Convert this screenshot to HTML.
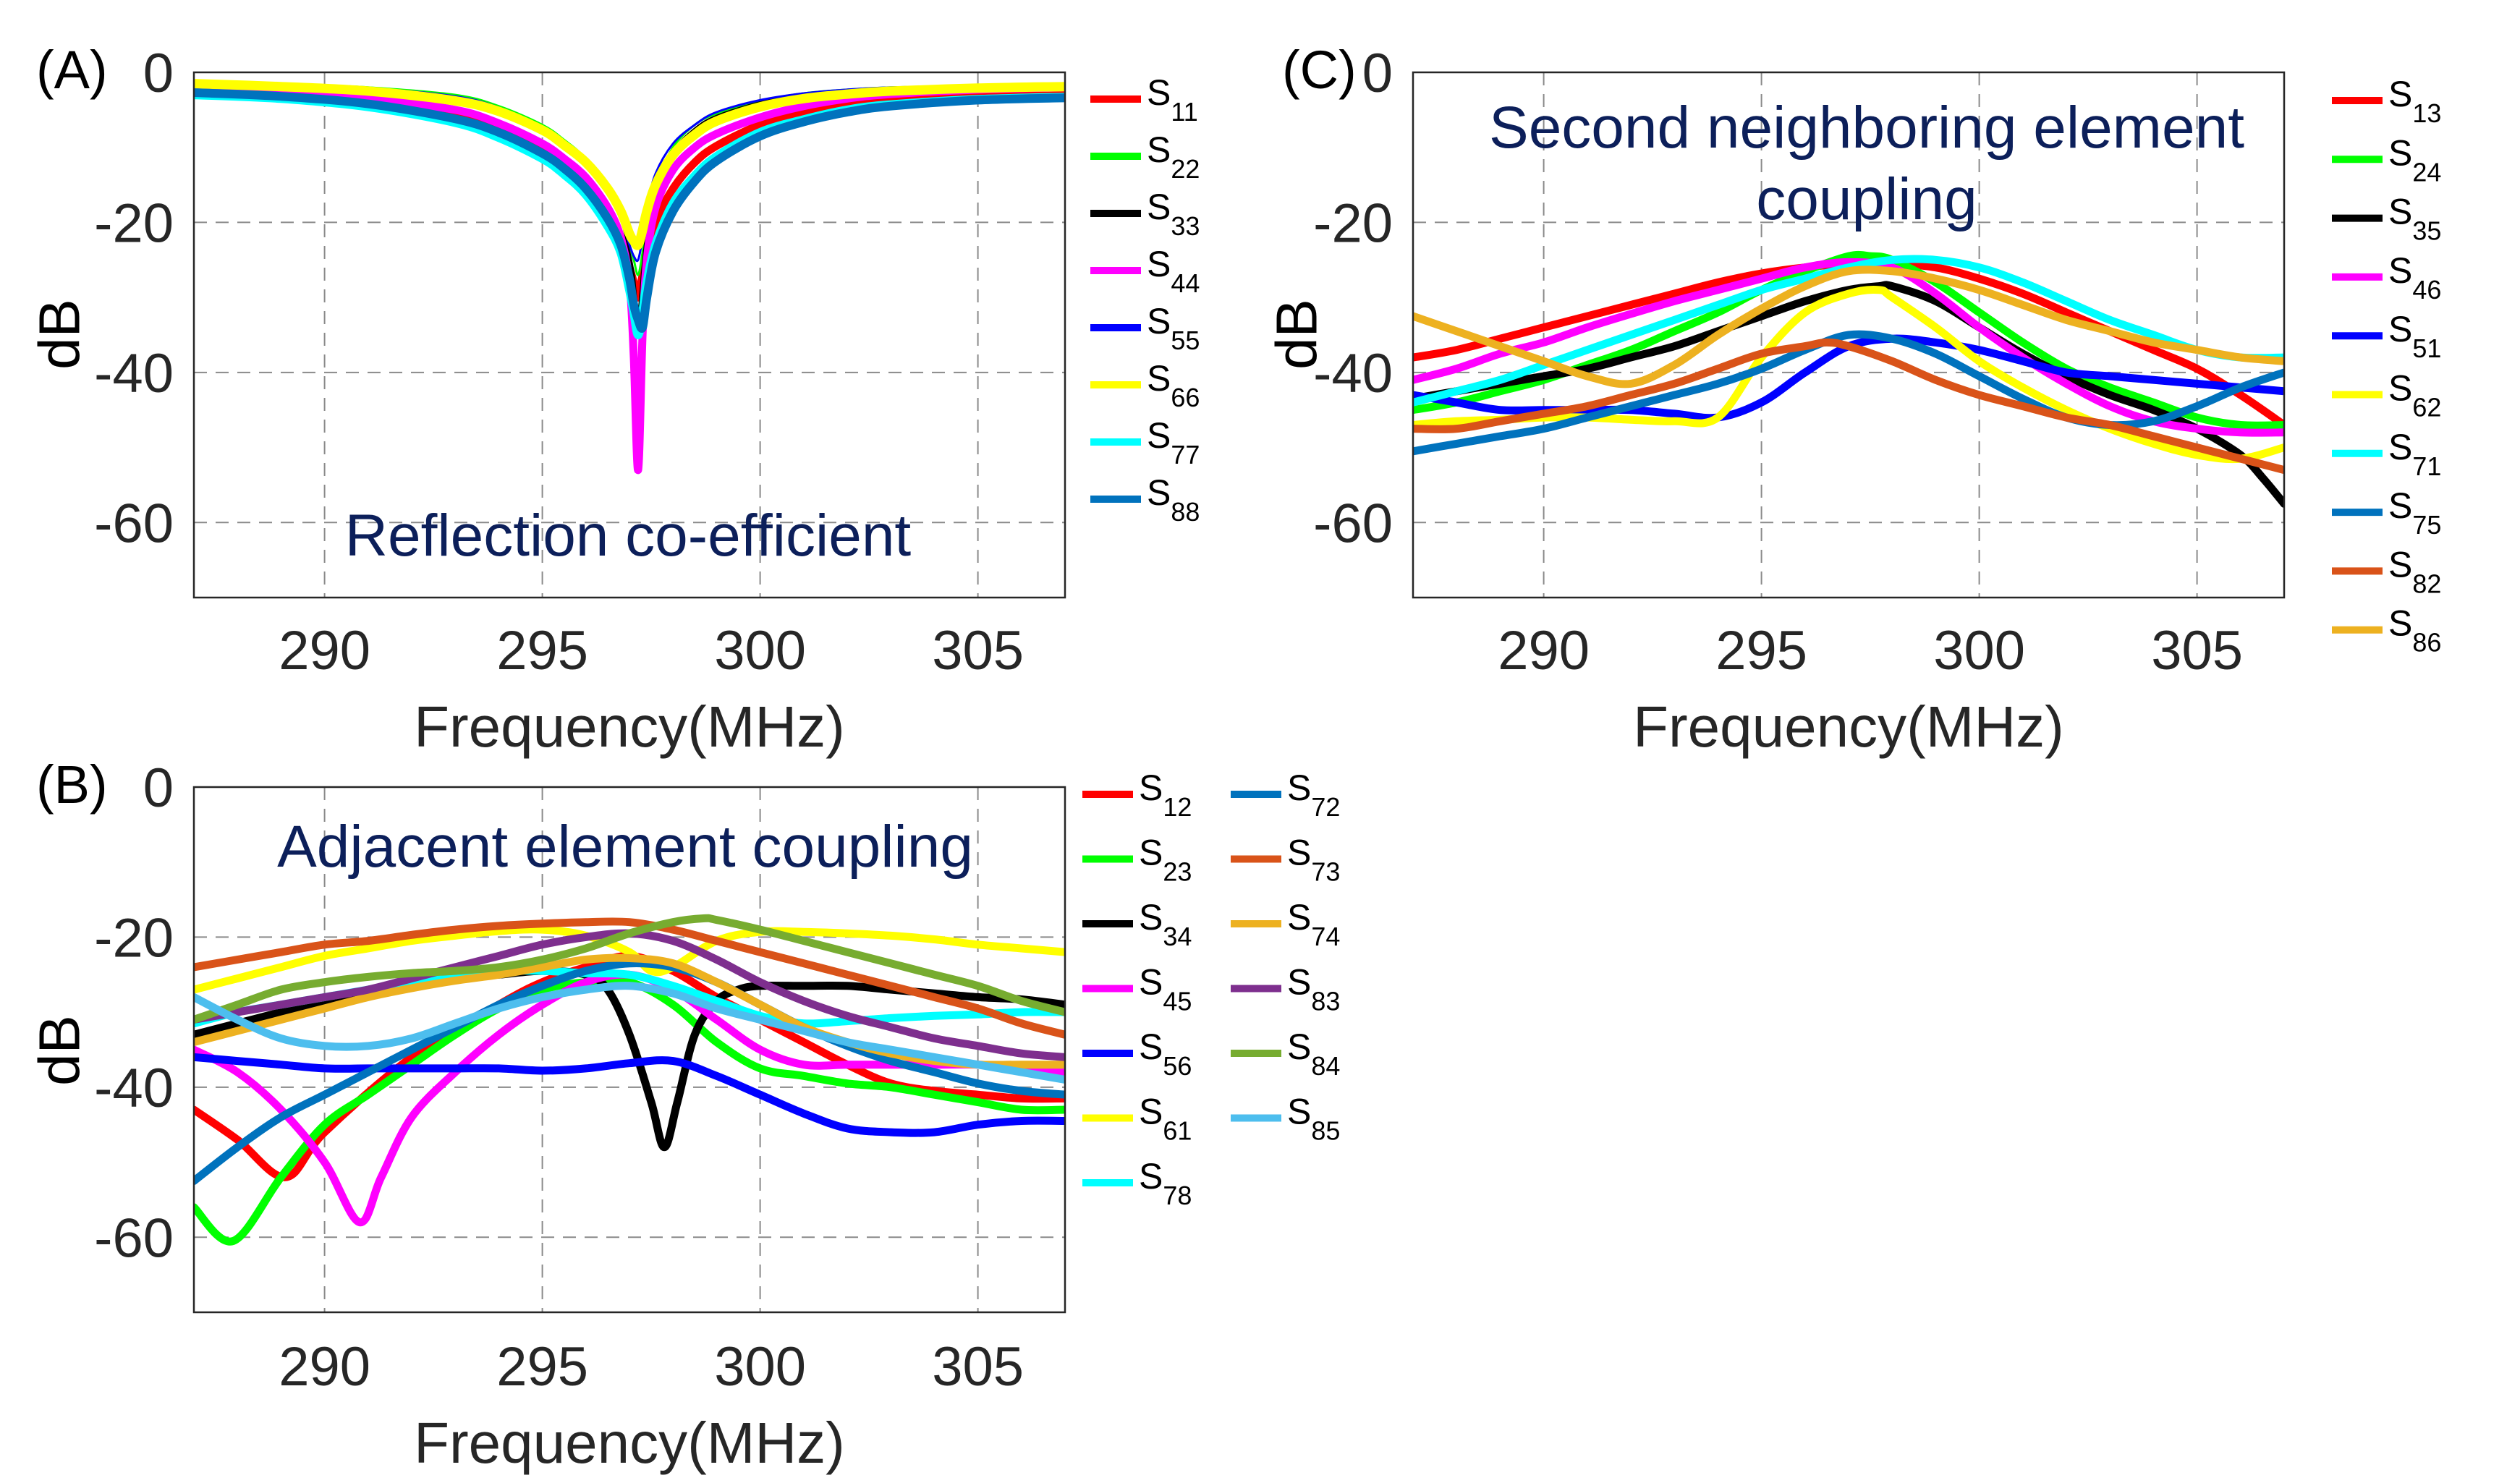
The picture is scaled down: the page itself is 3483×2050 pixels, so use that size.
<!DOCTYPE html>
<html><head><meta charset="utf-8"><style>
html,body{margin:0;padding:0;background:#fff}
svg{display:block;font-family:"Liberation Sans",Arial,sans-serif}
</style></head><body>
<svg id="fig" width="3483" height="2050" viewBox="0 0 3483 2050" xmlns="http://www.w3.org/2000/svg"></svg>
<script>
// ---------- Panel A data ----------
const freqA = [287,289,291,293,294,295,295.5,296,296.5,296.8,297,297.1,297.2,297.3,297.4,297.6,298,298.5,299,300,301,302,303,305,307];
const s11 = [-2.6,-3,-3.8,-5.5,-7.5,-10,-12,-14.5,-18.5,-22,-26,-28,-30,-27,-24,-20,-15.5,-12,-9.8,-7,-5.3,-4.4,-3.7,-3,-2.6];
const s22 = [-1.2,-1.5,-2,-3,-4.5,-7,-9,-11.5,-15.5,-19,-23,-25,-27,-24,-20,-15,-10,-7,-5.5,-3.8,-2.8,-2.3,-2,-1.8,-1.7];
const s33 = [-1.5,-1.8,-2.3,-3.5,-5,-7.5,-9.5,-12,-16,-19.5,-24,-27,-32,-26,-21,-15.5,-10.5,-7.5,-5.8,-4,-3,-2.5,-2.2,-1.9,-1.8];
const s44 = [-2.5,-2.8,-3.5,-5,-6.8,-9.5,-11.5,-14,-18,-22,-28,-38,-53,-35,-25,-18,-13,-10,-8.2,-6,-4.5,-3.5,-2.9,-2.3,-2];
const s55 = [-1.3,-1.6,-2.1,-3.2,-4.7,-7.2,-9.2,-11.8,-16,-19.5,-23,-24.5,-25,-22,-18,-13.5,-9.5,-7,-5.3,-3.7,-2.8,-2.3,-2,-1.8,-1.7];
const s66 = [-1.5,-1.9,-2.5,-3.8,-5.2,-7.7,-9.7,-12,-15.5,-18.5,-21.5,-22.5,-23,-21,-18.5,-15,-11,-8.3,-6.5,-4.6,-3.5,-2.9,-2.5,-2.1,-1.9];
const s77 = [-3,-3.5,-4.6,-6.7,-8.7,-11.5,-13.6,-16.3,-20.5,-24,-29,-32,-35,-32,-28,-23,-17.5,-13.8,-11.2,-8,-6.3,-5,-4.3,-3.6,-3.3];
const s88 = [-2.7,-3.2,-4.2,-6.2,-8,-10.8,-12.8,-15.5,-19.5,-23,-27.5,-31,-33,-34,-30,-24,-18.5,-14.5,-11.8,-8.5,-6.6,-5.3,-4.5,-3.7,-3.4];

// ---------- Panel B data ----------
const freqB = [287,288,289,290,291,292,293,294,295,296,297,298,299,300,301,302,303,304,305,306,307];
const s12x = [287,288,289.1,290,292,294,295,296,297,298,299,300,301,302,303,304,305,306,307];
const s12 = [-43,-47,-52,-46,-36,-29,-26,-24,-22.5,-24.5,-28,-31,-34,-37,-39.5,-40.5,-41,-41.5,-41.5];
const s23x = [287,287.9,289,290,291,292,293,294,295,296,297,298,299,300,301,302,303,304,305,306,307];
const s23 = [-56,-60.5,-52,-45,-41,-37,-33,-29.5,-27,-26,-26,-29,-34,-37.5,-38.5,-39.5,-40,-41,-42,-43,-43];
const s34x = [287,288,289,290,291,292,293,294,295,296,296.5,297,297.5,297.8,298.1,298.5,299,299.5,300,301,302,303,304,305,306,307];
const s34 = [-33,-31.5,-30,-28.5,-27.5,-26.5,-25.5,-25,-24.5,-25,-27,-33,-42,-48,-42,-33,-28.5,-27,-26.5,-26.5,-26.5,-27,-27.5,-28,-28.3,-29];
const s45x = [287,288,289,290,290.8,291.3,292,293,294,295,296,297,298,299,300,301,302,303,304,305,306,307];
const s45 = [-35,-38,-43,-50,-58,-52,-44,-38,-33,-29,-26,-25,-27,-31,-35,-37,-37,-37,-37,-37,-37.3,-38];
const s56 = [-36,-36.5,-37,-37.5,-37.5,-37.5,-37.5,-37.5,-37.8,-37.5,-36.8,-36.5,-38.5,-41,-43.5,-45.5,-46,-46,-45,-44.5,-44.5];
const s61x = [287,288,289,290,291,292,293,294,295,296,297,297.5,298,299,300,301,302,303,304,305,306,307];
const s61 = [-27,-25.5,-24,-22.5,-21.5,-20.5,-19.8,-19.2,-19,-19.8,-22,-24.5,-24,-20.5,-19.3,-19.3,-19.5,-19.8,-20.3,-21,-21.5,-22];
const s78 = [-31.5,-30,-29,-28,-27,-26,-25,-24.5,-24.5,-24.8,-25,-26.5,-28.5,-30.5,-31.5,-31.2,-30.8,-30.5,-30.3,-30,-30];
const s72 = [-52.5,-48,-44,-41,-38,-35,-32,-29,-26.5,-24.5,-23.5,-24,-26,-29,-32,-34.5,-36.5,-38,-39.5,-40.5,-41];
const s73 = [-24,-23,-22,-21,-20.5,-19.7,-19,-18.5,-18.2,-18,-18,-19,-20.5,-22,-23.5,-25,-26.5,-28,-29.5,-31.5,-33];
const s74 = [-34,-32.5,-31,-29.5,-28,-26.8,-25.8,-25,-24,-23,-22.8,-23.5,-26,-29,-32,-34,-35.5,-36.5,-37,-37,-37];
const s83 = [-31,-30,-29,-28,-27,-25.5,-24,-22.5,-21,-20,-19.5,-20.5,-23,-26,-28.5,-30.5,-32,-33.5,-34.5,-35.5,-36];
const s84x = [287,288,289,290,291,292,293,294,295,296,297,298,298.7,299,300,301,302,303,304,305,306,307];
const s84 = [-31,-29,-27,-26,-25.3,-24.8,-24.5,-24,-23,-21.5,-19.5,-18,-17.5,-17.7,-19,-20.5,-22,-23.5,-25,-26.5,-28.5,-30];
const s85 = [-28,-31,-33.5,-34.5,-34.5,-33.5,-31.5,-29.5,-28,-27,-26.5,-27.5,-29.5,-31,-32.5,-34,-35,-36,-37,-38,-39];

// ---------- Panel C data ----------
const freqC = [287,288,289,290,291,292,293,294,295,296,297,298,299,300,301,302,303,304,305,306,307];
const s13 = [-38,-37,-35.5,-34,-32.5,-31,-29.5,-28,-26.8,-26,-25.5,-25.5,-26,-27.5,-29.5,-32,-34.5,-37,-39.5,-43,-47];
const s24x = [287,288,289,290,291,292,293,294,295,296,297,297.5,298,299,300,301,302,303,304,305,306,307];
const s24 = [-45,-44,-42.5,-41,-39,-37,-34.5,-32,-29,-26.5,-24.5,-24.5,-25,-28,-32,-36,-39.5,-42,-44,-46,-47,-47];
const s35x = [287,288,289,290,291,292,293,294,295,296,297,297.7,298,299,300,301,302,303,304,305,306,306.5,307];
const s35 = [-43.5,-42.5,-41.5,-40.5,-39.5,-38,-36.5,-34.5,-32.5,-30.5,-29,-28.5,-28.5,-30.5,-34,-37.5,-40.5,-43,-45,-47.5,-51,-54,-57.5];
const s46 = [-41,-39.5,-37.5,-36,-34,-32.2,-30.5,-29,-27.5,-26,-25.3,-26,-29.5,-34,-38,-41.5,-44.5,-46.5,-47.5,-48,-48];
const s51 = [-43,-44,-45,-45,-45,-45,-45.5,-46,-44,-40,-36.5,-35.5,-36,-37,-38.5,-40,-40.5,-41,-41.5,-42,-42.5];
const s62x = [287,288,289,290,291,292,293,294,295,296,297,297.7,298,299,300,301,302,303,304,305,306,307];
const s62 = [-47,-46.5,-46.3,-46,-46,-46.3,-46.5,-46,-38,-32,-29.5,-29,-30,-34,-38.5,-42,-45,-47.5,-49.5,-51,-51.5,-50];
const s71 = [-44,-42.5,-41,-39,-37,-35,-33,-31,-29,-27.5,-26,-25,-25,-26,-28,-30.5,-33,-35,-37,-38,-38];
const s75 = [-50.5,-49.5,-48.5,-47.5,-46,-44.5,-43,-41.5,-39.5,-37,-35,-35.5,-37.5,-40.5,-43.5,-46,-47,-46.5,-44.5,-42,-40];
const s82x = [287,288,289,290,291,292,293,294,295,296,296.5,297,298,299,300,301,302,303,304,305,306,307];
const s82 = [-47.5,-47.5,-46.5,-45.5,-44.5,-43,-41.5,-39.5,-37.5,-36.5,-36,-36.5,-38.5,-41,-43,-44.5,-46,-47,-48.5,-50,-51.5,-53];
const s86 = [-32.5,-34.5,-36.5,-38.5,-40.5,-41.5,-39,-35,-31.5,-28.5,-26.5,-26.5,-27.5,-29,-31,-33,-34.5,-36,-37,-38,-38.5];

const xTicks = [290,295,300,305];
const yTicks = [0,-20,-40,-60];
const yTickLabels = ["0","-20","-40","-60"];

const NS = "http://www.w3.org/2000/svg";
const svg = document.getElementById("fig");
function mk(tag, attrs, parent){
  const e = document.createElementNS(NS, tag);
  for (const k in attrs) e.setAttribute(k, attrs[k]);
  (parent||svg).appendChild(e);
  return e;
}
function smoothPath(P){
  let d = "M"+P[0][0].toFixed(1)+","+P[0][1].toFixed(1);
  for (let i=0;i<P.length-1;i++){
    const p0=P[Math.max(0,i-1)],p1=P[i],p2=P[i+1],p3=P[Math.min(P.length-1,i+2)];
    const c1x=p1[0]+(p2[0]-p0[0])/6, c1y=p1[1]+(p2[1]-p0[1])/6;
    const c2x=p2[0]-(p3[0]-p1[0])/6, c2y=p2[1]-(p3[1]-p1[1])/6;
    d += " C"+c1x.toFixed(1)+","+c1y.toFixed(1)+" "+c2x.toFixed(1)+","+c2y.toFixed(1)+" "+p2[0].toFixed(1)+","+p2[1].toFixed(1);
  }
  return d;
}

const RED="#ff0000",GRN="#00ff00",BLK="#000000",MAG="#ff00ff",BLU="#0000ff",YEL="#ffff00",CYA="#00ffff",
      STB="#0072bd",ORG="#d95319",GLD="#edb120",PUR="#7e2f8e",OLV="#77ac30",LBL="#4dbeee";
const W = 11;

const panels = [
  {id:"a", letter:"(A)", L:268, R:1472, T:100, B:826, lx:50, ly:122,
   ann:[["Reflection co-efficient",868,768]], annSize:82,
   ylabX:82, ylabY:462, tickLblY:925, xlabY:1032,
   series:[
    ["s11",freqA,s11,RED,W],["s22",freqA,s22,GRN,3],["s33",freqA,s33,BLK,3],["s44",freqA,s44,MAG,W],
    ["s55",freqA,s55,BLU,3],["s66",freqA,s66,YEL,13],["s77",freqA,s77,CYA,12],["s88",freqA,s88,STB,12]],
   legend:{cols:[{lineX:1507,rows:[["11",RED],["22",GRN],["33",BLK],["44",MAG],["55",BLU],["66",YEL],["77",CYA],["88",STB]]}], y0:137, dy:79}},
  {id:"b", letter:"(B)", L:268, R:1472, T:1088, B:1814, lx:50, ly:1110,
   ann:[["Adjacent element coupling",864,1198]], annSize:82,
   ylabX:82, ylabY:1452, tickLblY:1915, xlabY:2022,
   series:[
    ["s12",s12x,s12,RED,W],["s23",s23x,s23,GRN,W],["s34",s34x,s34,BLK,W],["s45",s45x,s45,MAG,W],
    ["s56",freqB,s56,BLU,W],["s61",s61x,s61,YEL,W],["s78",freqB,s78,CYA,W],["s72",freqB,s72,STB,W],
    ["s73",freqB,s73,ORG,W],["s74",freqB,s74,GLD,W],["s83",freqB,s83,PUR,W],["s84",s84x,s84,OLV,W],["s85",freqB,s85,LBL,W]],
   legend:{cols:[{lineX:1496,rows:[["12",RED],["23",GRN],["34",BLK],["45",MAG],["56",BLU],["61",YEL],["78",CYA]]},
                 {lineX:1701,rows:[["72",STB],["73",ORG],["74",GLD],["83",PUR],["84",OLV],["85",LBL]]}], y0:1098, dy:89.5}},
  {id:"c", letter:"(C)", L:1953, R:3157, T:100, B:826, lx:1772, ly:122,
   ann:[["Second neighboring element",2580,204],["coupling",2580,303]], annSize:82,
   ylabX:1792, ylabY:462, tickLblY:925, xlabY:1032,
   series:[
    ["s13",freqC,s13,RED,W],["s24",s24x,s24,GRN,W],["s35",s35x,s35,BLK,W],["s46",freqC,s46,MAG,W],
    ["s51",freqC,s51,BLU,W],["s62",s62x,s62,YEL,W],["s71",freqC,s71,CYA,W],["s75",freqC,s75,STB,W],
    ["s82",s82x,s82,ORG,W],["s86",freqC,s86,GLD,W]],
   legend:{cols:[{lineX:3223,rows:[["13",RED],["24",GRN],["35",BLK],["46",MAG],["51",BLU],["62",YEL],["71",CYA],["75",STB],["82",ORG],["86",GLD]]}], y0:139, dy:81.3}}
];

const defs = mk("defs",{});
panels.forEach(p=>{
  const xMin=287,xMax=307,yMin=-70,yMax=0;
  const sx = v => p.L + (v-xMin)/(xMax-xMin)*(p.R-p.L);
  const sy = v => p.T + (yMax-v)/(yMax-yMin)*(p.B-p.T);
  const g = mk("g",{});
  
  
  const cp = mk("clipPath",{id:"clip"+p.id},defs);
  mk("rect",{x:p.L,y:p.T,width:p.R-p.L,height:p.B-p.T},cp);
  mk("rect",{x:p.L,y:p.T,width:p.R-p.L,height:p.B-p.T,fill:"#fff"},g);
  xTicks.forEach(t=>{
    const l = mk("line",{x1:sx(t),x2:sx(t),y1:p.T,y2:p.B,stroke:"#8a8a8a","stroke-width":2,"stroke-dasharray":"18,12"},g);
    
    
    const tl = mk("text",{x:sx(t),y:p.tickLblY,"font-size":76,"text-anchor":"middle",fill:"#262626"},g);
    tl.textContent = t;
    
    
  });
  yTicks.forEach((t,i)=>{
    if (t!==0){
      const l = mk("line",{x1:p.L,x2:p.R,y1:sy(t),y2:sy(t),stroke:"#8a8a8a","stroke-width":2,"stroke-dasharray":"18,12"},g);
      
      
    }
    const tl = mk("text",{x:p.L-28,y:sy(t)+27,"font-size":76,"text-anchor":"end",fill:"#262626"},g);
    tl.textContent = yTickLabels[i];
    
    
  });
  const sg = mk("g",{"clip-path":"url(#clip"+p.id+")"},g);
  p.series.forEach(s=>{
    const P = s[1].map((x,i)=>[sx(x), sy(s[2][i])]);
    const pl = mk("path",{d:smoothPath(P),fill:"none",stroke:s[3],"stroke-width":s[4],"stroke-linejoin":"round","stroke-linecap":"round"},sg);
    
    
  });
  const fr = mk("rect",{x:p.L,y:p.T,width:p.R-p.L,height:p.B-p.T,fill:"none",stroke:"#262626","stroke-width":2.5},g);
  
  
  p.ann.forEach(a=>{
    const t = mk("text",{x:a[1],y:a[2],"font-size":p.annSize,"text-anchor":"middle",fill:"#0c1f5a"},g);
    t.textContent = a[0];
    
    
  });
  const lt = mk("text",{x:p.lx,y:p.ly,"font-size":74,fill:"#000"},g);
  lt.textContent = p.letter;
  
  
  const yl = mk("text",{x:p.ylabX,y:p.ylabY,"font-size":80,"text-anchor":"middle",fill:"#000",transform:"rotate(-90 "+p.ylabX+" "+p.ylabY+")","dominant-baseline":"central"},g);
  yl.textContent = "dB";
  
  
  const xl = mk("text",{x:(p.L+p.R)/2,y:p.xlabY,"font-size":80,"text-anchor":"middle",fill:"#262626"},g);
  xl.textContent = "Frequency(MHz)";
  
  
  p.legend.cols.forEach(c=>{
    c.rows.forEach((r,i)=>{
      const y = p.legend.y0 + i*p.legend.dy;
      const lg = mk("g",{},g);
      
      
      mk("line",{x1:c.lineX,x2:c.lineX+70,y1:y,y2:y,stroke:r[1],"stroke-width":10},lg);
      const t = mk("text",{x:c.lineX+78,y:y+8,"font-size":50,fill:"#000"},lg);
      t.textContent = "S";
      const sub = mk("tspan",{dy:22,"font-size":36},t);
      sub.textContent = r[0];
    });
  });
});
</script>
</body></html>
